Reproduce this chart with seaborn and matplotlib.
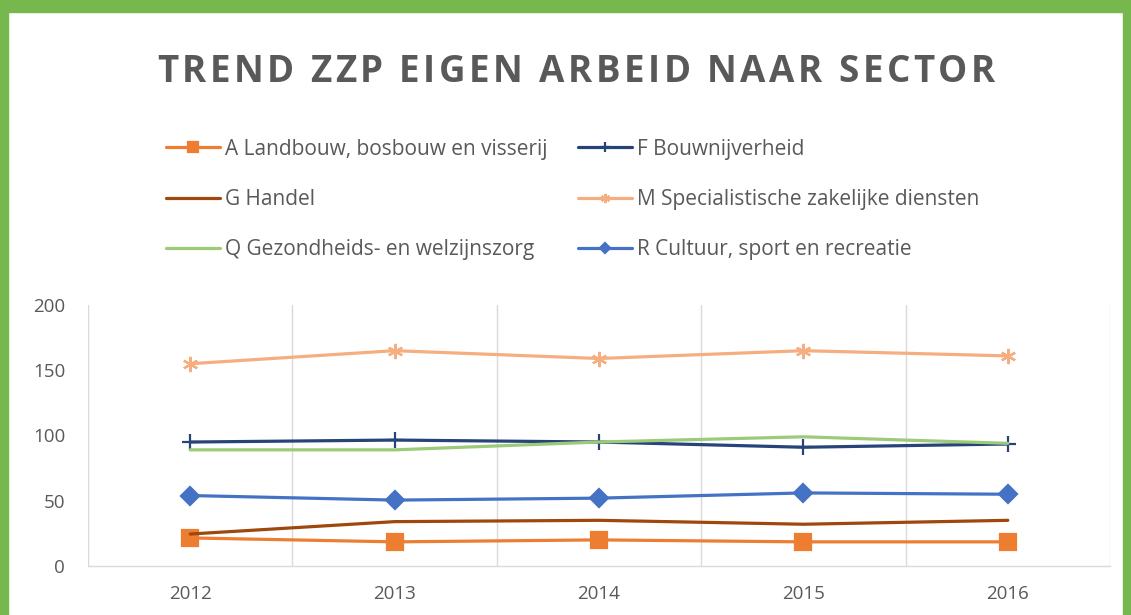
import numpy as np
import pandas as pd
import matplotlib
matplotlib.use("Agg")
import matplotlib.pyplot as plt
from matplotlib.patches import Rectangle
import seaborn as sns

# data
years = [2012, 2013, 2014, 2015, 2016]
landbouw = [21.5, 18.5, 20, 18.5, 18.5]
bouw = [95, 96.5, 95, 91, 93.5]
handel = [24.5, 34, 35, 32, 35]
specialistisch = [155, 165, 159, 165, 161]
gezondheid = [89, 89, 95, 99, 94]
cultuur = [54, 50.5, 52, 56, 55]

series = {
    "A Landbouw, bosbouw en visserij": landbouw,
    "F Bouwnijverheid": bouw,
    "G Handel": handel,
    "M Specialistische zakelijke diensten": specialistisch,
    "Q Gezondheids- en welzijnszorg": gezondheid,
    "R Cultuur, sport en recreatie": cultuur,
}
colors = ["#ED7D31", "#264478", "#9E480E", "#F4AE80", "#9BCB78", "#4472C4"]
markers = ["s", "+", None, (6, 2, 0), None, "D"]
msizes = [11, 12, 0, 11, 0, 9]

title = "TREND ZZP EIGEN ARBEID NAAR SECTOR"

sns.set_theme(style="white")
plt.rcParams["font.family"] = ["Open Sans", "DejaVu Sans"]

W, H = 1131, 615
fig = plt.figure(figsize=(W / 100, H / 100), dpi=100)
fig.patch.set_facecolor("white")
ax = fig.add_axes([88 / W, 1 - 566 / H, (1110 - 88) / W, (566 - 305) / H])

for (name, vals), c, m, ms in zip(series.items(), colors, markers, msizes):
    df = pd.DataFrame({"year": years, "value": vals})
    sns.lineplot(data=df, x="year", y="value", ax=ax, color=c, lw=2.3,
                 marker=m, markersize=ms, markeredgewidth=1.6,
                 markeredgecolor=c, label=name)

ax.set_xlim(2011.5, 2016.5)
ax.set_ylim(0, 200)
ax.set_xticks(years)
ax.set_xticklabels([str(y) for y in years])
ax.set_xticks(np.arange(2011.5, 2017, 1), minor=True)
ax.set_yticks([0, 50, 100, 150, 200])
ax.grid(False)
ax.grid(which="minor", axis="x", color="#DADADA", lw=1)
ax.tick_params(which="both", length=0)
ax.tick_params(axis="both", labelsize=13.5, colors="#595959")
ax.tick_params(axis="y", pad=16.5)
ax.tick_params(axis="x", pad=14)
ax.set_xlabel("")
ax.set_ylabel("")
for s in ["top", "left", "right"]:
    ax.spines[s].set_visible(False)
ax.spines["bottom"].set_color("#DADADA")
ax.spines["bottom"].set_linewidth(1)

handles, labels = ax.get_legend_handles_labels()
ax.get_legend().remove()
order = [0, 2, 4, 1, 3, 5]
leg = fig.legend([handles[i] for i in order], [labels[i] for i in order],
                 loc="upper left", bbox_to_anchor=(149 / W, 1 - 122 / H), ncol=2,
                 frameon=False, fontsize=15, handlelength=2.6, markerscale=0.6,
                 handletextpad=0.25, columnspacing=1.45, labelspacing=1.4,
                 borderpad=0.3)
for t in leg.get_texts():
    t.set_color("#595959")

# title with letter spacing, drawn char by char
renderer = fig.canvas.get_renderer()
tsize = 26.5
widths = []
for ch in title:
    if ch == " ":
        widths.append(0.26 * tsize * 100 / 72)
        continue
    t = fig.text(0, 0, ch, fontsize=tsize, fontweight="bold")
    widths.append(t.get_window_extent(renderer).width)
    t.remove()
x0, x1 = 157, 995
gap = (x1 - x0 - sum(widths)) / (len(title) - 1)
x = x0
for ch, w in zip(title, widths):
    if ch != " ":
        fig.text(x / W, 1 - 72 / H, ch, fontsize=tsize, fontweight="bold",
                 color="#595959", ha="left", va="center")
    x += w + gap

# green frame around the chart
green = "#76B74E"
fig.patches.append(Rectangle((0, 1 - 12 / H), 1, 12 / H, transform=fig.transFigure,
                             color=green, zorder=10))
fig.patches.append(Rectangle((0, 0), 8 / W, 1, transform=fig.transFigure,
                             color=green, zorder=10))
fig.patches.append(Rectangle((1 - 8 / W, 0), 8 / W, 1, transform=fig.transFigure,
                             color=green, zorder=10))

fig.savefig("out.png", dpi=100)
